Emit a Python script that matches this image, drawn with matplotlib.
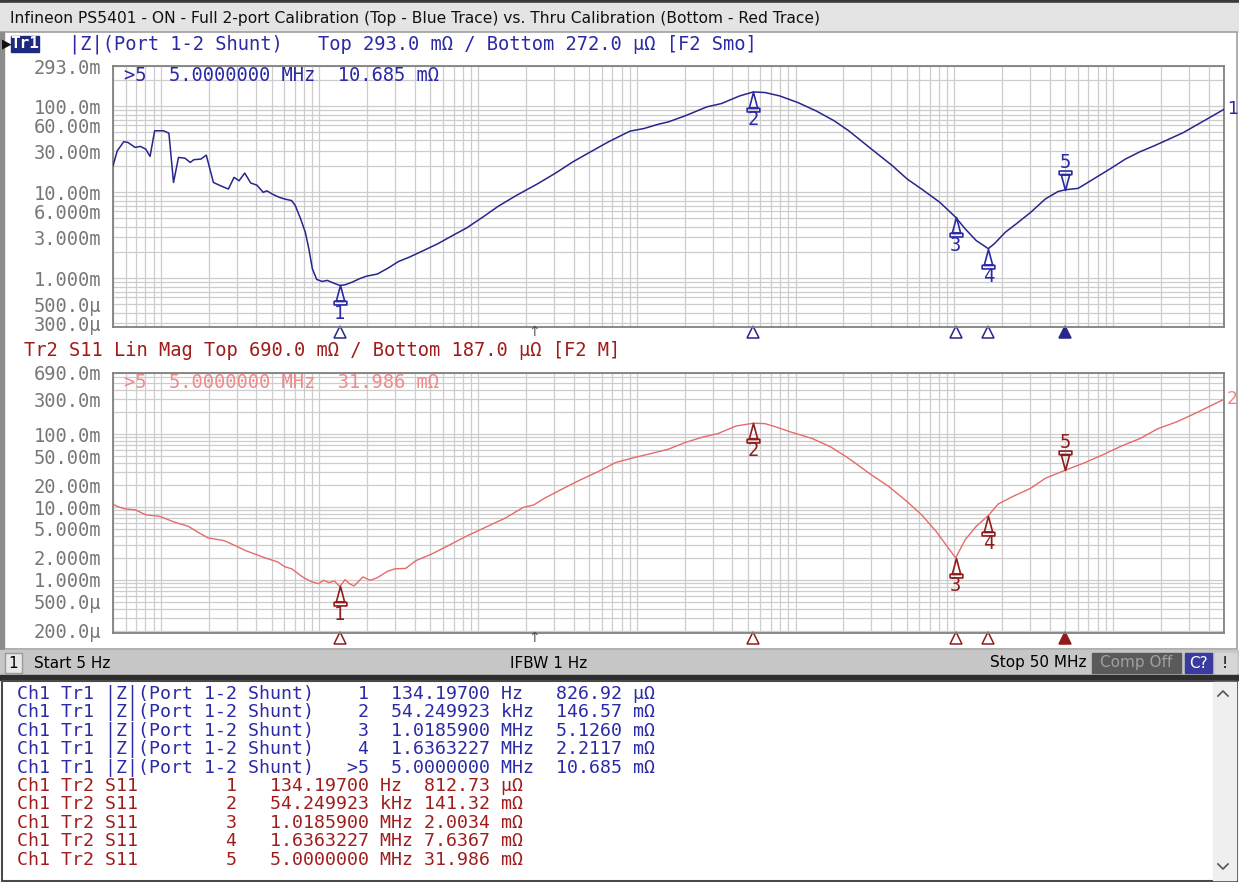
import numpy as np
import matplotlib.pyplot as plt
import matplotlib.transforms as mtransforms
from matplotlib.path import Path
from matplotlib.patches import Rectangle
from matplotlib.ticker import LogLocator, NullFormatter

MONO = 'DejaVu Sans Mono'
SANS = 'DejaVu Sans'

# sweep limits
f_start, f_stop = 5.0, 50e6

# Tr1: |Z| (Port 1-2 Shunt), full 2-port calibration
top_freq = [5, 5.32, 5.84, 6.21, 6.89, 7.44, 8.04, 8.56, 9.15, 10.41, 11.25, 12.03,
            12.93, 14.19, 15.34, 16.15, 17.9, 19.35, 21.46, 23.79, 26.66, 28.95, 31.12,
            33.8, 36.9, 40.3, 44.2, 46.6, 50.3, 55.8, 60.3, 66.8, 70.4, 76.1, 81.4, 85.7,
            90.2, 96.0, 103.7, 112.0, 121.1, 134.197, 145.1, 160.9, 178.4, 197.8, 231,
            269.6, 314.8, 367.5, 429.1, 555.7, 719.4, 839.9, 1087.6, 1336.6, 1731, 2360,
            3056, 3956, 5121, 6630, 9039, 11115, 13667, 15790, 20110, 27600, 34090, 44390,
            54249.923, 64240, 79340, 103300, 134500, 175100, 216300, 296900, 407500,
            503200, 621500, 809500, 1018590, 1171000, 1372000, 1636322.7, 1786000,
            2094000, 2453000, 3029000, 3741000, 4501000, 5e6, 6.016e6, 6.51e6, 7.83e6,
            9.67e6, 11.95e6, 14.75e6, 18.2e6, 22.5e6, 27.8e6, 34.3e6, 42.4e6, 50e6]
top_z = [20.3e-3, 30.3e-3, 38.6e-3, 37.9e-3, 33.2e-3, 34.1e-3, 31.7e-3, 26.1e-3, 51.8e-3,
         51.8e-3, 48.6e-3, 13.0e-3, 25.4e-3, 24.9e-3, 22.2e-3, 23.9e-3, 24.3e-3, 27.0e-3,
         13.0e-3, 11.9e-3, 10.9e-3, 14.9e-3, 13.6e-3, 16.7e-3, 12.8e-3, 12.1e-3, 9.98e-3,
         10.4e-3, 9.55e-3, 8.73e-3, 8.35e-3, 8.0e-3, 7.0e-3, 4.9e-3, 3.43e-3, 2.20e-3,
         1.29e-3, 971e-6, 920e-6, 946e-6, 889e-6, 826.92e-6, 842e-6, 904e-6, 989e-6,
         1.06e-3, 1.12e-3, 1.31e-3, 1.57e-3, 1.76e-3, 2.01e-3, 2.52e-3, 3.28e-3, 3.82e-3,
         5.26e-3, 6.87e-3, 9.14e-3, 12.5e-3, 16.6e-3, 22.6e-3, 29.6e-3, 38.6e-3, 51.3e-3,
         55.1e-3, 61.8e-3, 65.7e-3, 77.2e-3, 98.2e-3, 107.3e-3, 131.6e-3, 146.57e-3,
         143.9e-3, 131.6e-3, 110.2e-3, 88.2e-3, 67.6e-3, 51.7e-3, 32.3e-3, 20.3e-3,
         14.3e-3, 10.9e-3, 7.65e-3, 5.126e-3, 3.75e-3, 2.75e-3, 2.2117e-3, 2.52e-3,
         3.43e-3, 4.29e-3, 5.85e-3, 8.35e-3, 10.2e-3, 10.685e-3, 11.1e-3, 12.1e-3,
         14.9e-3, 18.9e-3, 24.3e-3, 29.5e-3, 34.7e-3, 41.4e-3, 49.5e-3, 61.8e-3,
         77.2e-3, 92e-3]

# Tr2: S11 lin mag, thru calibration
bot_freq = [5, 5.32, 5.9, 6.89, 8.04, 9.89, 12.16, 14.94, 17.44, 19.86, 25.06, 30.02,
            34.16, 39.87, 46.55, 54.37, 60.29, 66.85, 78.07, 88.8, 98.5, 106.4, 114.9,
            124.2, 134.197, 145.1, 154.4, 165.1, 187.8, 208.3, 231, 269.6, 299, 349,
            407.5, 501, 648.6, 839.9, 1087.6, 1482, 1919, 2241, 2617, 3388, 4385, 5678,
            7352, 9515, 12320, 15790, 20110, 26180, 32340, 42110, 54249.923, 64240, 75250,
            92950, 127600, 166100, 216300, 296900, 386500, 503200, 621500, 767800, 899200,
            1018590, 1171000, 1372000, 1636322.7, 1883000, 2327000, 3029000, 3741000,
            5e6, 6.69e6, 8.71e6, 11.34e6, 14.75e6, 19.2e6, 25.0e6, 32.6e6, 42.4e6, 50e6]
bot_z = [10.95e-3, 10.2e-3, 9.46e-3, 9.17e-3, 7.83e-3, 7.43e-3, 6.22e-3, 5.43e-3, 4.41e-3,
         3.77e-3, 3.46e-3, 2.90e-3, 2.53e-3, 2.23e-3, 1.97e-3, 1.77e-3, 1.52e-3, 1.42e-3,
         1.10e-3, 946e-6, 889e-6, 987e-6, 918e-6, 967e-6, 812.73e-6, 1.008e-3, 889e-6,
         826e-6, 1.10e-3, 987e-6, 1.07e-3, 1.32e-3, 1.42e-3, 1.44e-3, 1.85e-3, 2.23e-3,
         2.96e-3, 3.97e-3, 5.16e-3, 7.06e-3, 9.86e-3, 10.7e-3, 13.2e-3, 17.7e-3, 23.5e-3,
         30.5e-3, 40.9e-3, 47.4e-3, 54.3e-3, 62.2e-3, 76.7e-3, 91.6e-3, 101.7e-3,
         129.3e-3, 141.32e-3, 139.2e-3, 125.3e-3, 107.2e-3, 86.9e-3, 66.9e-3, 46.4e-3,
         28.1e-3, 19.1e-3, 11.9e-3, 7.83e-3, 4.64e-3, 2.90e-3, 2.0034e-3, 3.57e-3,
         5.43e-3, 7.6367e-3, 10.95e-3, 13.9e-3, 18.1e-3, 24.8e-3, 31.986e-3, 40.9e-3,
         52.6e-3, 69.0e-3, 86.9e-3, 119e-3, 146.7e-3, 190.5e-3, 252.8e-3, 300e-3]

# markers (same stimulus on both traces)
mk_names = ['1', '2', '3', '4', '5']
mk_freq = [134.197, 54249.923, 1018590, 1636322.7, 5e6]
mk_top = [826.92e-6, 146.57e-3, 5.1260e-3, 2.2117e-3, 10.685e-3]
mk_bot = [812.73e-6, 141.32e-3, 2.0034e-3, 7.6367e-3, 31.986e-3]
active = 4
cursor_freq = 2240

top_ylim = (272e-6, 293e-3)
bot_ylim = (187e-6, 690e-3)
top_ticks = [293e-3, 100e-3, 60e-3, 30e-3, 10e-3, 6e-3, 3e-3, 1e-3, 500e-6, 300e-6]
top_ticklabels = ['293.0m', '100.0m', '60.00m', '30.00m', '10.00m', '6.000m', '3.000m',
                  '1.000m', '500.0µ', '300.0µ']
bot_ticks = [690e-3, 300e-3, 100e-3, 50e-3, 20e-3, 10e-3, 5e-3, 2e-3, 1e-3, 500e-6, 200e-6]
bot_ticklabels = ['690.0m', '300.0m', '100.0m', '50.00m', '20.00m', '10.00m', '5.000m',
                  '2.000m', '1.000m', '500.0µ', '200.0µ']

title = ('Infineon PS5401 - ON - Full 2-port Calibration (Top - Blue Trace) '
         'vs. Thru Calibration (Bottom - Red Trace)')

# colours
BLUE_TRACE = '#26268c'
BLUE_TXT = '#2a2aa6'
RED_TRACE = '#e66a6a'
RED_MK = '#8e1c1c'
RED_TXT = '#a01c1c'
RED_INFO = '#f08a8a'
GRID = '#cdcdcd'


def fmt_freq(f):
    for scale, unit in ((1e6, 'MHz'), (1e3, 'kHz'), (1, 'Hz')):
        if f >= scale:
            break
    v = f / scale
    return f"{v:.{8 - len(str(int(v)))}f}", unit


def fmt_val(v):
    for scale, unit in ((1, 'Ω'), (1e-3, 'mΩ'), (1e-6, 'µΩ')):
        if v >= scale:
            break
    x = v / scale
    return f"{x:.{5 - len(str(int(x)))}f}", unit


W, H = 1239, 882
fig = plt.figure(figsize=(W / 100, H / 100), dpi=100, facecolor='white')

# pixel-space background layer for the window chrome
bg = fig.add_axes([0, 0, 1, 1], zorder=0)
bg.set_xlim(0, W)
bg.set_ylim(H, 0)
bg.axis('off')


def box(x0, y0, x1, y1, **kw):
    bg.add_patch(Rectangle((x0, y0), x1 - x0, y1 - y0, **kw))


def px_axes(x0, y0, x1, y1):
    return fig.add_axes([x0 / W, 1 - y1 / H, (x1 - x0) / W, (y1 - y0) / H], zorder=2)


box(0, 0, W, 3, color='#3a3a3a')
box(0, 3, W, 32, color='#e4e4e4')
box(1, 32, 1237, 649, fc='white', ec='#a0a0a0', lw=1.2)
box(0, 32, 4, 649, color='#8c8c8c')
box(0, 650, W, 675, color='#c6c6c6')
box(0, 675, W, 680, color='#2e2e2e')
box(2, 681, 1237, 881, fc='white', ec='#4a4a4a', lw=1.5)
box(1213, 682, 1236, 880, color='#efefef')
bg.plot([1218, 1223, 1228], [696, 691, 696], color='#555555', lw=1.2)
bg.plot([1218, 1223, 1228], [864, 869, 864], color='#555555', lw=1.2)

bg.text(10, 18, title, fontsize=11.2, family=SANS, color='#111111', va='center')

# trace headers
bg.text(2, 44, '▶', fontsize=9, family=SANS, color='#111111', va='center')
box(11, 36, 39, 52, color='#1e2a80')
bg.text(25, 44, 'Tr1', fontsize=11.5, family=MONO, fontweight='bold', color='white',
        ha='center', va='center')
bg.text(69, 44, '|Z|(Port 1-2 Shunt)', fontsize=13.5, family=MONO, color=BLUE_TXT,
        va='center')
bg.text(318, 44, 'Top 293.0 mΩ / Bottom 272.0 µΩ [F2 Smo]', fontsize=13.5, family=MONO,
        color=BLUE_TXT, va='center')
bg.text(24, 351, 'Tr2 S11 Lin Mag Top 690.0 mΩ / Bottom 187.0 µΩ [F2 M]', fontsize=13.5,
        family=MONO, color=RED_TXT, va='center')

# status bar
box(5, 653, 22, 673, fc='#e8e8e8', ec='#9a9a9a', lw=1)
bg.text(13.5, 663, '1', fontsize=11, family=SANS, ha='center', va='center')
bg.text(34, 663, 'Start 5 Hz', fontsize=11, family=SANS, va='center')
bg.text(510, 663, 'IFBW 1 Hz', fontsize=11, family=SANS, va='center')
bg.text(1086, 663, 'Stop 50 MHz', fontsize=11, family=SANS, va='center', ha='right')
box(1092, 653, 1181, 673, color='#5a5a5a')
bg.text(1136, 663, 'Comp Off', fontsize=11, family=SANS, color='#a0a0a0',
        ha='center', va='center')
box(1185, 653, 1212, 673, color='#3b3b9e')
bg.text(1198, 663, 'C?', fontsize=11, family=SANS, color='white', ha='center', va='center')
box(1215, 653, 1236, 673, color='#d6d6d6')
bg.text(1225, 663, '!', fontsize=11, family=SANS, ha='center', va='center')

# marker glyphs: apex sits on the trace
MO, LT, CP = Path.MOVETO, Path.LINETO, Path.CLOSEPOLY
up_verts = [(0, 0), (-0.2, -0.75), (0.2, -0.75), (0, 0),
            (-0.3, -0.75), (0.3, -0.75), (0.3, -0.92), (-0.3, -0.92), (-0.3, -0.75)]
up_codes = [MO, LT, LT, CP, MO, LT, LT, LT, CP]
up_path = Path(up_verts, up_codes)
down_path = Path(np.array(up_verts) * [1, -1], up_codes)


def setup(ax, ylim, ticks, labels):
    ax.set_xscale('log')
    ax.set_yscale('log')
    ax.set_xlim(f_start, f_stop)
    ax.set_ylim(*ylim)
    ax.xaxis.set_major_locator(LogLocator(base=10, numticks=20))
    ax.xaxis.set_minor_locator(LogLocator(base=10, subs=np.arange(2, 10), numticks=100))
    ax.xaxis.set_major_formatter(NullFormatter())
    ax.xaxis.set_minor_formatter(NullFormatter())
    ax.yaxis.set_minor_locator(LogLocator(base=10, subs=np.arange(2, 10), numticks=100))
    ax.set_yticks(ticks, labels=labels)
    ax.yaxis.set_minor_formatter(NullFormatter())
    ax.tick_params(which='both', length=0)
    ax.tick_params(axis='y', pad=8.5, labelsize=13.5, labelcolor='#777777',
                   labelfontfamily=MONO)
    ax.grid(True, which='both', color=GRID, lw=0.9)
    ax.set_axisbelow(True)
    for s in ax.spines.values():
        s.set_color('#808080')
        s.set_linewidth(1.3)


def draw_markers(ax, vals, color, ind_color):
    for i, (name, f, v) in enumerate(zip(mk_names, mk_freq, vals)):
        flip = i == active
        ax.plot([f], [v], ls='none', marker=down_path if flip else up_path, ms=28,
                mfc='none', mec=color, mew=1.2, zorder=4, clip_on=False)
        ax.annotate(name, (f, v), xytext=(0, 20 if flip else -20), textcoords='offset points',
                    ha='center', va='center', color=color, fontsize=13.5, family=MONO)
    trans = mtransforms.blended_transform_factory(ax.transData, ax.transAxes)
    for i, f in enumerate(mk_freq):
        ax.plot([f], [-0.018], ls='none', transform=trans, marker='^', ms=9,
                mfc=ind_color if i == active else 'none', mec=ind_color, mew=1.1,
                clip_on=False)
    ax.text(cursor_freq, -0.02, '↑', transform=trans, ha='center', va='center',
            color='#555555', fontsize=10, family=SANS)


def info_line(vals):
    fs, fu = fmt_freq(mk_freq[active])
    vs, vu = fmt_val(vals[active])
    return f">5  {fs} {fu}  {vs} {vu}"


ax1 = px_axes(113, 66, 1224, 327)
setup(ax1, top_ylim, top_ticks, top_ticklabels)
ax1.plot(top_freq, top_z, color=BLUE_TRACE, lw=1.1, zorder=3)
draw_markers(ax1, mk_top, BLUE_TXT, BLUE_TRACE)
ax1.annotate(info_line(mk_top), xy=(0, 1), xycoords='axes fraction', xytext=(11, -9),
             textcoords='offset pixels', va='center', fontsize=13.5, family=MONO,
             color=BLUE_TXT)
ax1.annotate('1', (top_freq[-1], top_z[-1]), xytext=(2, 0), textcoords='offset points',
             ha='left', va='center', color=BLUE_TXT, fontsize=12.5, family=SANS,
             annotation_clip=False)

ax2 = px_axes(113, 373, 1224, 633)
setup(ax2, bot_ylim, bot_ticks, bot_ticklabels)
ax2.plot(bot_freq, bot_z, color=RED_TRACE, lw=1.0, zorder=3)
draw_markers(ax2, mk_bot, RED_MK, RED_MK)
ax2.annotate(info_line(mk_bot), xy=(0, 1), xycoords='axes fraction', xytext=(11, -9),
             textcoords='offset pixels', va='center', fontsize=13.5, family=MONO,
             color=RED_INFO)
ax2.annotate('2', (bot_freq[-1], bot_z[-1]), xytext=(2, 0), textcoords='offset points',
             ha='left', va='center', color=RED_INFO, fontsize=12.5, family=SANS,
             annotation_clip=False)

# marker table
row_y = 694
for i, (f, v) in enumerate(zip(mk_freq, mk_top)):
    idx = '>5' if i == active else mk_names[i]
    fs, fu = fmt_freq(f)
    vs, vu = fmt_val(v)
    line = f"Ch1 Tr1 |Z|(Port 1-2 Shunt)   {idx:>2}  {fs} {fu:<3}  {vs} {vu}"
    bg.text(17, row_y, line, fontsize=13.15, family=MONO, color=BLUE_TXT, va='center')
    row_y += 18.4
for i, (f, v) in enumerate(zip(mk_freq, mk_bot)):
    fs, fu = fmt_freq(f)
    vs, vu = fmt_val(v)
    line = f"Ch1 Tr2 S11       {mk_names[i]:>2}   {fs} {fu:<3} {vs} {vu}"
    bg.text(17, row_y, line, fontsize=13.15, family=MONO, color=RED_TXT, va='center')
    row_y += 18.4

fig.savefig('out.png', dpi=100)
